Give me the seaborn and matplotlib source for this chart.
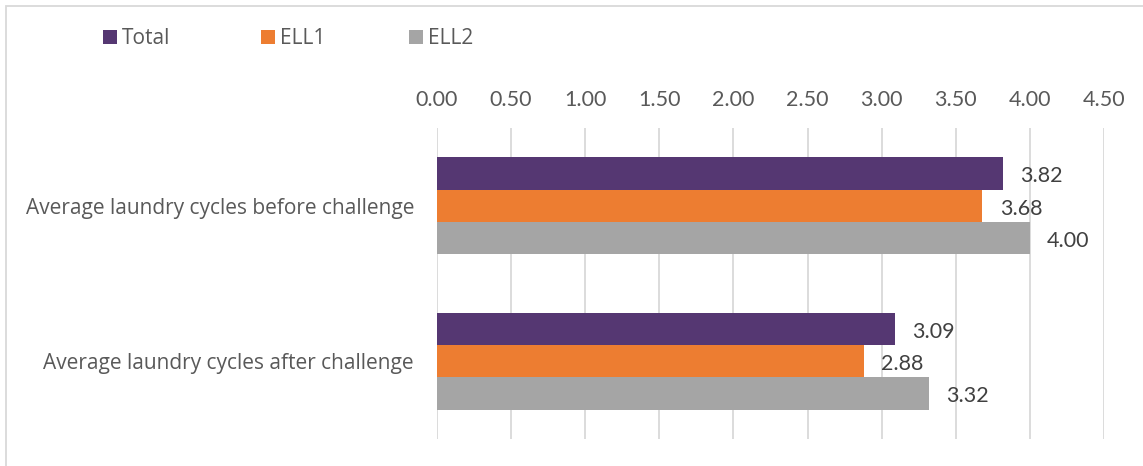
import matplotlib
matplotlib.use("Agg")
import matplotlib.pyplot as plt
import seaborn as sns
import pandas as pd
from matplotlib.patches import Rectangle

categories = ["Average laundry cycles before challenge",
              "Average laundry cycles after challenge"]
series = ["Total", "ELL1", "ELL2"]
total = [3.82, 3.09]
ell1 = [3.68, 2.88]
ell2 = [4.00, 3.32]
ticks = [0.0, 0.5, 1.0, 1.5, 2.0, 2.5, 3.0, 3.5, 4.0, 4.5]
colors = ["#553772", "#ED7D31", "#A5A5A5"]

df = pd.DataFrame({
    "category": categories * 3,
    "series": [s for s in series for _ in categories],
    "value": total + ell1 + ell2,
})

sns.set_theme(style="white")
plt.rcParams["font.family"] = ["Open Sans", "DejaVu Sans"]
num_font = ["Lato", "DejaVu Sans"]

fig = plt.figure(figsize=(11.43, 4.66), dpi=100)
ax = fig.add_axes([437 / 1143, 1 - 439 / 466, (1104 - 437) / 1143, (439 - 128) / 466])

sns.barplot(data=df, y="category", x="value", hue="series", orient="h",
            palette=colors, width=0.625, ax=ax, saturation=1,
            edgecolor="none", linewidth=0, legend=False, zorder=3)

ax.set_xlim(0, 4.5)
ax.set_ylim(1.5, -0.5)
ax.set_xticks(ticks)
ax.set_xticklabels([f"{t:.2f}" for t in ticks], fontsize=15.5, color="#595959",
                   family=num_font)
ax.xaxis.tick_top()
ax.tick_params(axis="x", length=0, pad=13)
ax.tick_params(axis="y", length=0, pad=16.5)
ax.set_yticks(range(len(categories)))
ax.set_yticklabels(categories, fontsize=15, color="#595959")
ax.set_xlabel("")
ax.set_ylabel("")
ax.grid(axis="x", color="#D9D9D9", linewidth=1.3, zorder=0)
for sp in ax.spines.values():
    sp.set_visible(False)

for cont in ax.containers:
    labels = ax.bar_label(cont, fmt="%.2f", padding=12.5, fontsize=15.5,
                          color="#404040", family=num_font)
    for lab in labels:
        lab.xyann = (12.5, -2)

# legend row above the axis labels
leg_x = [103, 261, 409]
for x0, name, c in zip(leg_x, series, colors):
    fig.patches.append(Rectangle((x0 / 1143, 1 - 44 / 466), 14 / 1143, 14 / 466,
                                 transform=fig.transFigure, facecolor=c,
                                 edgecolor="none"))
    fig.text((x0 + 19) / 1143, 1 - 38.5 / 466, name, fontsize=15, color="#595959",
             va="center", ha="left")

# chart frame
fig.patches.append(Rectangle((6 / 1143, -0.1), 1.2, 1 - 6 / 466 + 0.1,
                             transform=fig.transFigure, facecolor="none",
                             edgecolor="#D9D9D9", linewidth=1.3))

fig.savefig("out.png", dpi=100)
